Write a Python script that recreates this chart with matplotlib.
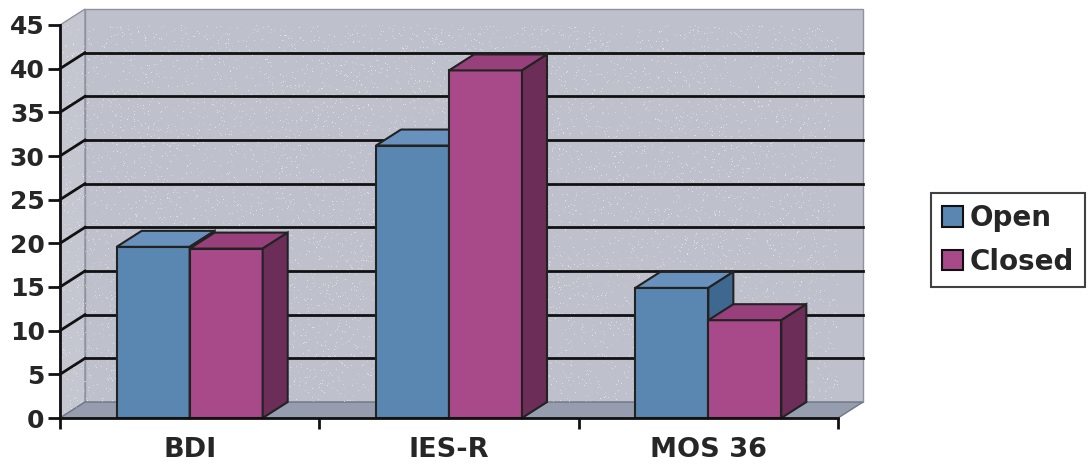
import numpy as np
import matplotlib.pyplot as plt
from matplotlib.patches import Polygon, Patch

categories = ["BDI", "IES-R", "MOS 36"]
open_vals = [19.6, 31.2, 14.9]
closed_vals = [19.4, 39.8, 11.2]
series_names = ["Open", "Closed"]
y_ticks = [0, 5, 10, 15, 20, 25, 30, 35, 40, 45]

# face colours: front, top, side
open_cols = ("#5a87b1", "#6892bd", "#3f6890")
closed_cols = ("#a8498a", "#97407b", "#6c2d58")
wall_col = "#bec1cb"
side_wall_col = "#c4c7d0"
floor_col = "#959daf"

plt.rcParams["font.family"] = ["DejaVu Sans"]
plt.rcParams["font.weight"] = "bold"

fig = plt.figure(figsize=(10.9, 4.66), dpi=100)
ax = fig.add_axes([60 / 1090, 48 / 466, 778 / 1090, 393 / 466])

# depth offset of the back plane, in data units
DX, DY = 0.0964, 1.83
ymax = y_ticks[-1]
ncat = len(categories)


def poly(pts, fc, ec="none", lw=0, z=1):
    p = Polygon(pts, closed=True, facecolor=fc, edgecolor=ec,
                linewidth=lw, zorder=z, clip_on=False)
    ax.add_patch(p)
    return p


# walls and floor
left_wall = poly([(0, 0), (DX, DY), (DX, ymax + DY), (0, ymax)],
                 side_wall_col, "#8f93a0", 1)
back_wall = poly([(DX, DY), (ncat + DX, DY), (ncat + DX, ymax + DY),
                  (DX, ymax + DY)], wall_col, "#8f93a0", 1)
poly([(0, 0), (ncat, 0), (ncat + DX, DY), (DX, DY)], floor_col, "#6f7688", 1)

# granite-like speckle on the wall fill
rng = np.random.default_rng(7)
tex = np.zeros((410, 800, 4))
tex[..., :3] = 1.0
tex[..., 3] = (rng.random((410, 800)) > 0.97) * rng.uniform(0.2, 0.6, (410, 800))
for wall in (back_wall, left_wall):
    im = ax.imshow(tex, extent=(0, ncat + DX, 0, ymax + DY), aspect="auto",
                   interpolation="nearest", zorder=1.2)
    im.set_clip_path(wall)
ax.set_xlim(0, 3)
ax.set_ylim(0, 45)

# gridlines on the back and left walls
for v in y_ticks[1:-1]:
    ax.plot([DX, ncat + DX], [v + DY, v + DY], color="#111111", lw=2,
            zorder=1.5, clip_on=False)
    ax.plot([0, DX], [v, v + DY], color="#111111", lw=2, zorder=1.5,
            clip_on=False)

w = 0.2815
centers = [i + 0.5 for i in range(ncat)]


def bars3d(xs, vals, cols):
    bars = ax.bar(xs, vals, width=w, color=cols[0], edgecolor="#222222",
                  linewidth=1.5, zorder=3)
    for b, v in zip(bars, vals):
        x0 = b.get_x()
        x1 = x0 + b.get_width()
        poly([(x0, v), (x1, v), (x1 + DX, v + DY), (x0 + DX, v + DY)],
             cols[1], "#222222", 1.5, 3)
        poly([(x1, 0), (x1 + DX, DY), (x1 + DX, v + DY), (x1, v)],
             cols[2], "#222222", 1.5, 3)


bars3d([c - w / 2 for c in centers], open_vals, open_cols)
bars3d([c + w / 2 for c in centers], closed_vals, closed_cols)

# axes
for s in ["top", "right"]:
    ax.spines[s].set_visible(False)
for s in ["left", "bottom"]:
    ax.spines[s].set_linewidth(2)
    ax.spines[s].set_color("#111111")
    ax.spines[s].set_zorder(4)
ax.set_yticks(y_ticks)
ax.set_yticklabels([str(t) for t in y_ticks], fontsize=18, fontweight="bold",
                   color="#262626")
ax.tick_params(axis="y", direction="out", length=9, width=2, pad=2,
               color="#111111")
ax.set_xticks(range(ncat + 1))
ax.set_xticklabels([])
ax.tick_params(axis="x", which="major", direction="out", length=8, width=2,
               color="#111111")
ax.set_xticks(centers, minor=True)
ax.set_xticklabels(categories, minor=True, fontsize=19.5, fontweight="bold",
                   color="#262626")
ax.tick_params(axis="x", which="minor", length=0, pad=14)

handles = [Patch(facecolor=open_cols[0], edgecolor="#111111", linewidth=1.5),
           Patch(facecolor=closed_cols[0], edgecolor="#111111", linewidth=1.5)]
leg = fig.legend(handles, series_names, loc="center left",
                 bbox_to_anchor=(931 / 1090, (466 - 240) / 466),
                 frameon=True, fancybox=False, edgecolor="#111111",
                 prop={"size": 20, "weight": "bold"}, handlelength=0.75,
                 handleheight=0.75, handletextpad=0.25, borderpad=0.4,
                 labelspacing=0.55, borderaxespad=0)
leg.get_frame().set_linewidth(1.5)
for t in leg.get_texts():
    t.set_color("#262626")

fig.savefig("out.png", dpi=100)
